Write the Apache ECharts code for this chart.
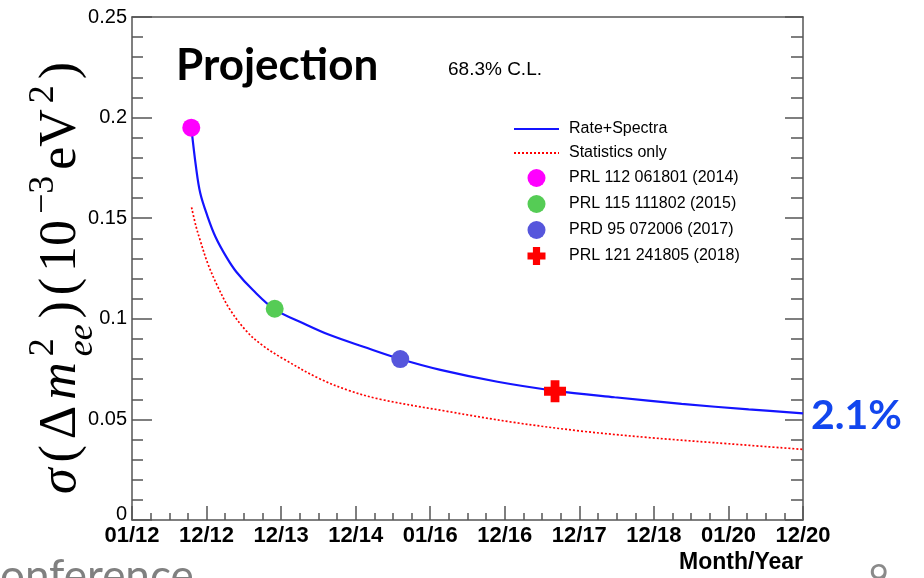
<!DOCTYPE html>
<html>
<head>
<meta charset="utf-8">
<script src="https://cdn.jsdelivr.net/npm/echarts@6/dist/echarts.min.js"></script>
<style>
  html, body { margin: 0; padding: 0; background: #fff; }
  #chart { width: 924px; height: 578px; }
</style>
</head>
<body>
<div id="chart"></div>
<script>
// Horizontal positions are expressed in axis divisions: one division per tick label.
const tickLabels = ['01/12', '12/12', '12/13', '12/14', '01/16', '12/16', '12/17', '12/18', '01/20', '12/20'];

// Projected precision, rate + spectral shape analysis
const rateSpectraX = [0.795, 0.858, 0.916, 1.015, 1.119, 1.263, 1.398, 1.622, 1.914, 2.295, 2.655, 3.104, 3.598, 4.137, 4.902, 5.665, 6.473, 7.372, 8.271, 9.0];
const rateSpectraY = [0.1953, 0.1756, 0.1624, 0.1507, 0.1408, 0.1309, 0.1234, 0.1143, 0.1047, 0.0978, 0.0919, 0.0861, 0.0800, 0.0746, 0.0687, 0.0643, 0.0610, 0.0577, 0.0550, 0.0530];

// Projected precision, statistical uncertainty only
const statOnlyX = [0.799, 0.858, 0.916, 1.015, 1.15, 1.307, 1.532, 1.75, 2.026, 2.5, 2.9, 3.329, 4.228, 5.125, 6.024, 6.923, 7.82, 9.0];
const statOnlyY = [0.1554, 0.1460, 0.1388, 0.1276, 0.1160, 0.1050, 0.0940, 0.0868, 0.0802, 0.0705, 0.0645, 0.0600, 0.0540, 0.0485, 0.0442, 0.0410, 0.0384, 0.0351];

// Published measurements
const resultNames = ['PRL 112 061801 (2014)', 'PRL 115 111802 (2015)', 'PRD 95 072006 (2017)', 'PRL 121 241805 (2018)'];
const resultX = [0.795, 1.914, 3.598, 5.674];
const resultY = [0.195, 0.105, 0.080, 0.064];

const resultColors = ['#ff00ff', '#55cc55', '#5656dc', '#ff0000'];
const crossPath = 'path://M6,0H14V6H20V14H14V20H6V14H0V6H6Z';
const resultSymbols = ['circle', 'circle', 'circle', crossPath];
const resultSizes = [18, 18, 18, 22];

const zip = (xs, ys) => xs.map((x, i) => [x, ys[i]]);

// Rotated axis title: σ(Δm²_ee)(10⁻³eV²), laid out piece by piece
function buildYTitle() {
  const S = 52;
  const serif = '"Liberation Serif", "DejaVu Serif", serif';
  const ctx = document.createElement('canvas').getContext('2d');
  const measure = (font, t) => { ctx.font = font; return ctx.measureText(t).width; };
  const pieces = [
    [{ t: 'σ', it: true, s: 1, b: 0 }],
    [{ t: '(', s: 1, b: 0 }],
    [{ t: 'Δ', s: 1, b: 0 }],
    [{ t: 'm', it: true, s: 1, b: 0 }],
    [{ t: '2', s: 0.7, b: -0.45 }, { t: 'ee', it: true, s: 0.7, b: 0.3 }],
    [{ t: ')', s: 1, b: 0 }],
    [{ t: '(', s: 1, b: 0 }],
    [{ t: '10', s: 1, b: 0 }],
    [{ t: '−3', s: 0.7, b: -0.45 }],
    [{ t: 'eV', s: 1, b: 0 }],
    [{ t: '2', s: 0.7, b: -0.45 }],
    [{ t: ')', s: 1, b: 0 }]
  ];
  const fontOf = p => (p.it ? 'italic ' : '') + Math.round(p.s * S) + 'px ' + serif;
  const widths = pieces.map(g => Math.max(...g.map(p => measure(fontOf(p), p.t))));
  const natural = widths.reduce((a, b) => a + b, 0);
  const target = 432;
  const gap = (target - natural) / (pieces.length - 1);
  const children = [];
  let x = 0;
  pieces.forEach((g, i) => {
    g.forEach(p => {
      const size = Math.round(p.s * S);
      children.push({
        type: 'text',
        x: x,
        y: p.b * S - 0.34 * size,
        style: { text: p.t, font: fontOf(p), fill: '#000', align: 'left', verticalAlign: 'middle' }
      });
    });
    x += widths[i] + gap;
  });
  return { type: 'group', x: 79, y: 494, rotation: Math.PI / 2, children: children };
}

const axisColor = '#555';
const axisLineStyle = { color: axisColor, width: 1.5 };
const hiddenSymbol = { color: 'rgba(0,0,0,0)', opacity: 0, borderWidth: 0 };

const chart = echarts.init(document.getElementById('chart'));
chart.setOption({
  animation: false,
  backgroundColor: '#fff',
  grid: { left: 132, top: 17, right: 121, bottom: 58, outerBoundsMode: 'none' },
  xAxis: [
    {
      type: 'value', position: 'bottom', min: 0, max: 9, interval: 1,
      axisLine: { show: true, onZero: false, lineStyle: axisLineStyle },
      axisTick: { show: true, inside: true, length: 14, lineStyle: axisLineStyle },
      minorTick: { show: true, splitNumber: 4, length: 7, lineStyle: axisLineStyle },
      splitLine: { show: false },
      axisLabel: {
        formatter: v => tickLabels[Math.round(v)],
        color: '#000', fontFamily: '"Liberation Sans", Arial, sans-serif',
        fontWeight: 'bold', fontSize: 22, margin: 5
      },
      name: 'Month/Year', nameLocation: 'end', nameGap: 0,
      nameTextStyle: {
        color: '#000', fontFamily: '"Liberation Sans", Arial, sans-serif',
        fontWeight: 'bold', fontSize: 23, align: 'right', verticalAlign: 'top',
        padding: [31, 0, 0, 0]
      }
    },
    {
      type: 'value', position: 'top', min: 0, max: 9, interval: 1,
      axisLine: { show: true, onZero: false, lineStyle: axisLineStyle },
      axisTick: { show: false }, axisLabel: { show: false }, splitLine: { show: false }
    }
  ],
  yAxis: [
    {
      type: 'value', position: 'left', min: 0, max: 0.25, interval: 0.05,
      axisLine: { show: true, onZero: false, lineStyle: axisLineStyle },
      axisTick: { show: true, inside: true, length: 20, lineStyle: axisLineStyle },
      minorTick: { show: true, splitNumber: 5, length: 11, lineStyle: axisLineStyle },
      splitLine: { show: false },
      axisLabel: {
        formatter: v => (v === 0 ? '{z|0}' : String(+v.toFixed(2))),
        color: '#000', fontFamily: '"Liberation Sans", Arial, sans-serif', fontSize: 20, margin: 5,
        rich: { z: { fontFamily: '"Liberation Sans", Arial, sans-serif', fontSize: 20, color: '#000', padding: [0, 0, 12, 0] } }
      }
    },
    {
      type: 'value', position: 'right', min: 0, max: 0.25, interval: 0.05,
      axisLine: { show: true, onZero: false, lineStyle: axisLineStyle },
      axisTick: { show: true, inside: true, length: 18, lineStyle: axisLineStyle },
      minorTick: { show: true, splitNumber: 5, length: 12, lineStyle: axisLineStyle },
      axisLabel: { show: false }, splitLine: { show: false }
    }
  ],
  legend: {
    orient: 'vertical', left: 508, top: 116,
    itemWidth: 45, itemHeight: 18, itemGap: 8,
    symbolKeepAspect: true,
    textStyle: { fontFamily: '"Liberation Sans", Arial, sans-serif', fontSize: 16, color: '#000', padding: [0, 0, 0, 5] },
    data: [
      { name: 'Rate+Spectra', itemStyle: hiddenSymbol },
      { name: 'Statistics only', itemStyle: hiddenSymbol }
    ].concat(resultNames)
  },
  series: [
    {
      name: 'Rate+Spectra', type: 'line', data: zip(rateSpectraX, rateSpectraY),
      symbol: 'none', smooth: 0.35,
      lineStyle: { color: '#1414ff', width: 2.2 }, itemStyle: { color: '#1414ff' }, z: 2
    },
    {
      name: 'Statistics only', type: 'line', data: zip(statOnlyX, statOnlyY),
      symbol: 'none', smooth: 0.35,
      lineStyle: { color: '#ff0000', width: 1.7, type: [2, 2] }, itemStyle: { color: '#ff0000' }, z: 2
    }
  ].concat(resultNames.map((n, i) => ({
    name: n, type: 'scatter', data: [[resultX[i], resultY[i]]],
    symbol: resultSymbols[i], symbolSize: resultSizes[i], symbolKeepAspect: true,
    itemStyle: { color: resultColors[i], opacity: 1 }, z: 4
  }))),
  graphic: [
    buildYTitle(),
    { type: 'text', left: 176, top: 44, style: { text: 'Projection', font: 'bold 44px Lato, "Open Sans", sans-serif', fill: '#000' } },
    { type: 'text', left: 448, top: 60, style: { text: '68.3% C.L.', font: '19px "Liberation Sans", Arial, sans-serif', fill: '#000' } },
    { type: 'text', left: 811, top: 395, style: { text: '2.1%', font: 'bold 41px Lato, "Open Sans", sans-serif', fill: '#1246ee' } },
    { type: 'text', x: -29, y: 555, style: { text: 'Conference', font: '44px Lato, "Open Sans", sans-serif', fill: '#808080' } },
    { type: 'text', x: 869, y: 561, style: { text: '9', font: '34px Lato, "Open Sans", sans-serif', fill: '#8a8a8a' } }
  ]
});
</script>
</body>
</html>
